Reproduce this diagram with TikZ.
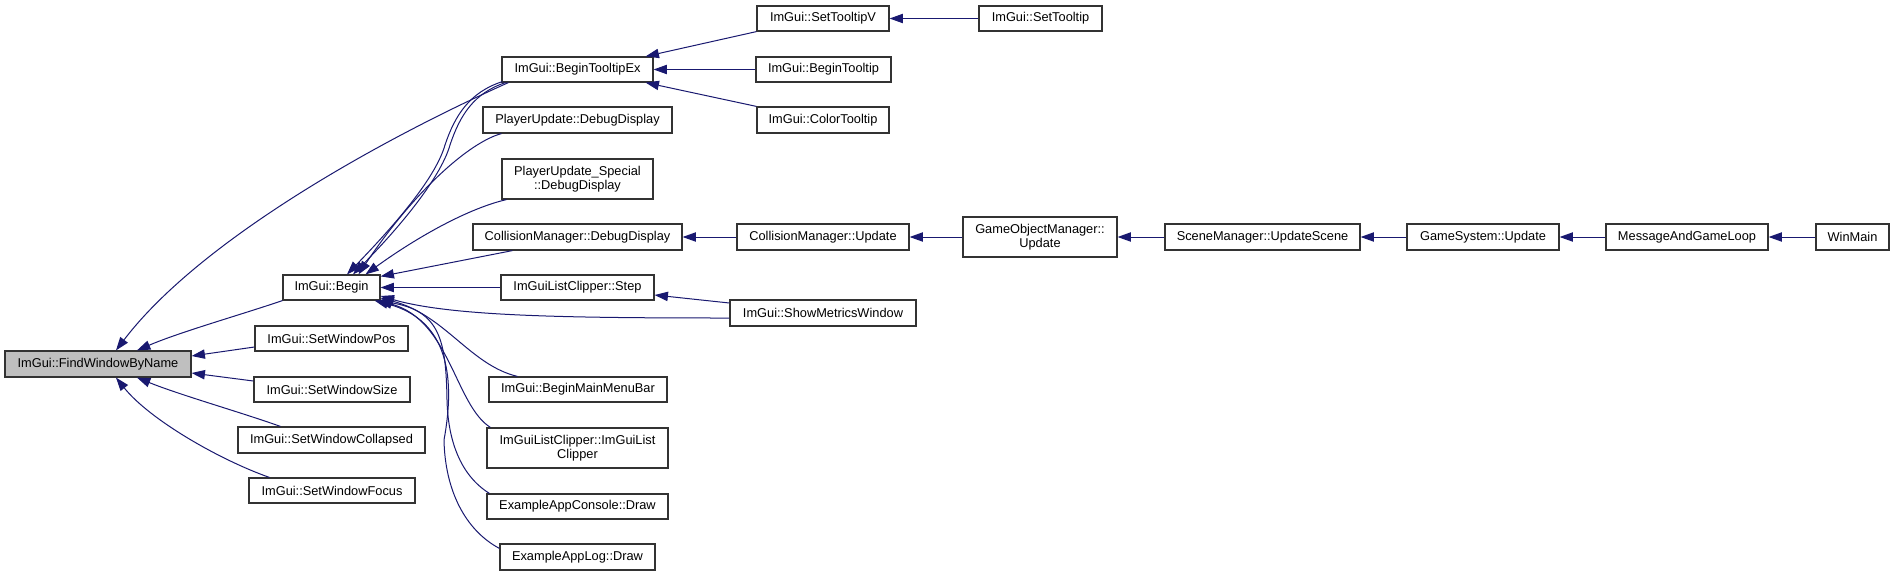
\documentclass[tikz,border=0pt]{standalone}
\usepackage{fontspec}
\setmainfont{Liberation Sans}
\usetikzlibrary{arrows.meta,calc}
\definecolor{edgeblue}{HTML}{191970}
\definecolor{boxline}{HTML}{333333}
\definecolor{grayfill}{HTML}{BFBFBF}
\begin{document}
\begin{tikzpicture}[x=0.75pt,y=-0.75pt,
  fnbox/.style={draw=boxline,line width=0.9pt,fill=white,inner sep=0pt,align=center,
    font=\fontsize{9.6}{10.4}\selectfont},
  bw/.style={minimum width=#1*0.75pt},
  bh/.style={minimum height=#1*0.75pt},
  edge/.style={draw=edgeblue,line width=0.75pt,-{Triangle[length=10pt,width=7pt]}}]
\path[use as bounding box,fill=white] (0,0) rectangle (1895,576);
% nodes
\node[fnbox,fill=grayfill,bw=186,bh=26] (fw) at (98,364) {ImGui::FindWindowByName};
\node[fnbox,bw=151,bh=25] (tipex) at (577.5,69.5) {ImGui::BeginTooltipEx};
\node[fnbox,bw=189,bh=26] (pudd) at (577.5,120) {PlayerUpdate::DebugDisplay};
\node[fnbox,bw=151,bh=40] (pusd) at (577.5,179) {PlayerUpdate\_Special\\::DebugDisplay};
\node[fnbox,bw=209,bh=26] (cmdd) at (577.5,237) {CollisionManager::DebugDisplay};
\node[fnbox,bw=97,bh=25] (begin) at (331.5,287.5) {ImGui::Begin};
\node[fnbox,bw=153,bh=25] (step) at (577.5,287.5) {ImGuiListClipper::Step};
\node[fnbox,bw=153,bh=25] (swp) at (331.5,338.5) {ImGui::SetWindowPos};
\node[fnbox,bw=156,bh=25] (sws) at (332,389.5) {ImGui::SetWindowSize};
\node[fnbox,bw=187,bh=26] (swc) at (331.5,440) {ImGui::SetWindowCollapsed};
\node[fnbox,bw=166,bh=25] (swf) at (332,490.5) {ImGui::SetWindowFocus};
\node[fnbox,bw=178,bh=25] (bmmb) at (578,389.5) {ImGui::BeginMainMenuBar};
\node[fnbox,bw=181,bh=40] (lcc) at (577.5,448) {ImGuiListClipper::ImGuiList\\Clipper};
\node[fnbox,bw=181,bh=25] (eacd) at (577.5,506.5) {ExampleAppConsole::Draw};
\node[fnbox,bw=155,bh=26] (eald) at (577.5,557) {ExampleAppLog::Draw};
\node[fnbox,bw=132,bh=25] (stv) at (823,18.5) {ImGui::SetTooltipV};
\node[fnbox,bw=123,bh=25] (st) at (1040.5,18.5) {ImGui::SetTooltip};
\node[fnbox,bw=135,bh=25] (bt) at (823.5,69.5) {ImGui::BeginTooltip};
\node[fnbox,bw=132,bh=26] (ct) at (823,120) {ImGui::ColorTooltip};
\node[fnbox,bw=172,bh=26] (cmu) at (823,237) {CollisionManager::Update};
\node[fnbox,bw=154,bh=40] (gomu) at (1040,237) {GameObjectManager::\\Update};
\node[fnbox,bw=186,bh=26] (smw) at (823,313) {ImGui::ShowMetricsWindow};
\node[fnbox,bw=195,bh=26] (smus) at (1262.5,237) {SceneManager::UpdateScene};
\node[fnbox,bw=152,bh=26] (gsu) at (1483,237) {GameSystem::Update};
\node[fnbox,bw=162,bh=26] (magl) at (1687,237) {MessageAndGameLoop};
\node[fnbox,bw=73,bh=26] (wm) at (1852.5,237) {WinMain};
% straight chains
\draw[edge] (st.west) -- (stv.east);
\draw[edge] (stv.south west) -- ($(tipex.north east)+(-8,0)$);
\draw[edge] (bt.west) -- (tipex.east);
\draw[edge] (ct.north west) -- ($(tipex.south east)+(-8,0)$);
\draw[edge] (cmu.west) -- (cmdd.east);
\draw[edge] (gomu.west) -- (cmu.east);
\draw[edge] (smus.west) -- (gomu.east);
\draw[edge] (gsu.west) -- (smus.east);
\draw[edge] (magl.west) -- (gsu.east);
\draw[edge] (wm.west) -- (magl.east);
\draw[edge] ($(smw.west)+(0,-10)$) -- ($(step.east)+(0,7.5)$);
\draw[edge] ($(smw.west)+(0,5)$) .. controls (560,318) and (450,316) .. ($(begin.east)+(0,8.5)$);
\draw[edge] (step.west) -- (begin.east);
\draw[edge] ($(cmdd.south west)+(40,0)$) -- ($(begin.north east)+(0,2)$);
% into Begin from above
\draw[edge] ($(tipex.south west)+(1,-1)$) .. controls (470,92) and (455,115) .. (445,145)
  .. controls (435,180) and (390,230) .. ($(begin.north)+(15.5,0)$);
\draw[edge] ($(tipex.south west)+(4,0)$) .. controls (474,93) and (460,115) .. (450,145)
  .. controls (440,180) and (395,232) .. ($(begin.north)+(21.5,0)$);
\draw[edge] ($(pudd.south west)+(19,0)$) .. controls (470,142) and (415,190) .. ($(begin.north)+(27,0)$);
\draw[edge] ($(pusd.south west)+(5,0)$) .. controls (470,208) and (420,235) .. ($(begin.north)+(34,0)$);
% into Begin from below
\draw[edge] ($(bmmb.north west)+(29,0)$) .. controls (470,365) and (445,315) .. ($(begin.east)+(0,10.5)$);
\draw[edge] ($(lcc.north west)+(4,0)$) .. controls (455,405) and (450,320) .. ($(begin.south east)+(-2,0)$);
\draw[edge] ($(eacd.north west)+(3,0)$) .. controls (460,475) and (448,440) .. (447,400)
  .. controls (446,340) and (440,310) .. ($(begin.south east)+(-4,0)$);
\draw[edge] ($(eald.north west)+(0,5)$) .. controls (465,530) and (445,490) .. (444,440)
  .. controls (455,380) and (450,320) .. ($(begin.south east)+(-6,0)$);
% into FindWindowByName
\draw[edge] ($(tipex.south west)+(7,0)$) .. controls (380,140) and (200,240) .. ($(fw.north)+(18,0)$);
\draw[edge] (begin.south west) .. controls (240,315) and (180,332) .. ($(fw.north)+(39,0)$);
\draw[edge] ($(swp.west)+(0,8.5)$) -- ($(fw.east)+(0,-8)$);
\draw[edge] ($(sws.west)+(0,-8.5)$) -- ($(fw.east)+(0,9)$);
\draw[edge] ($(swc.north west)+(43,0)$) .. controls (240,412) and (180,395) .. ($(fw.south)+(39,0)$);
\draw[edge] ($(swf.north west)+(21,0)$) .. controls (220,460) and (150,420) .. ($(fw.south)+(18,0)$);
\end{tikzpicture}
\end{document}
